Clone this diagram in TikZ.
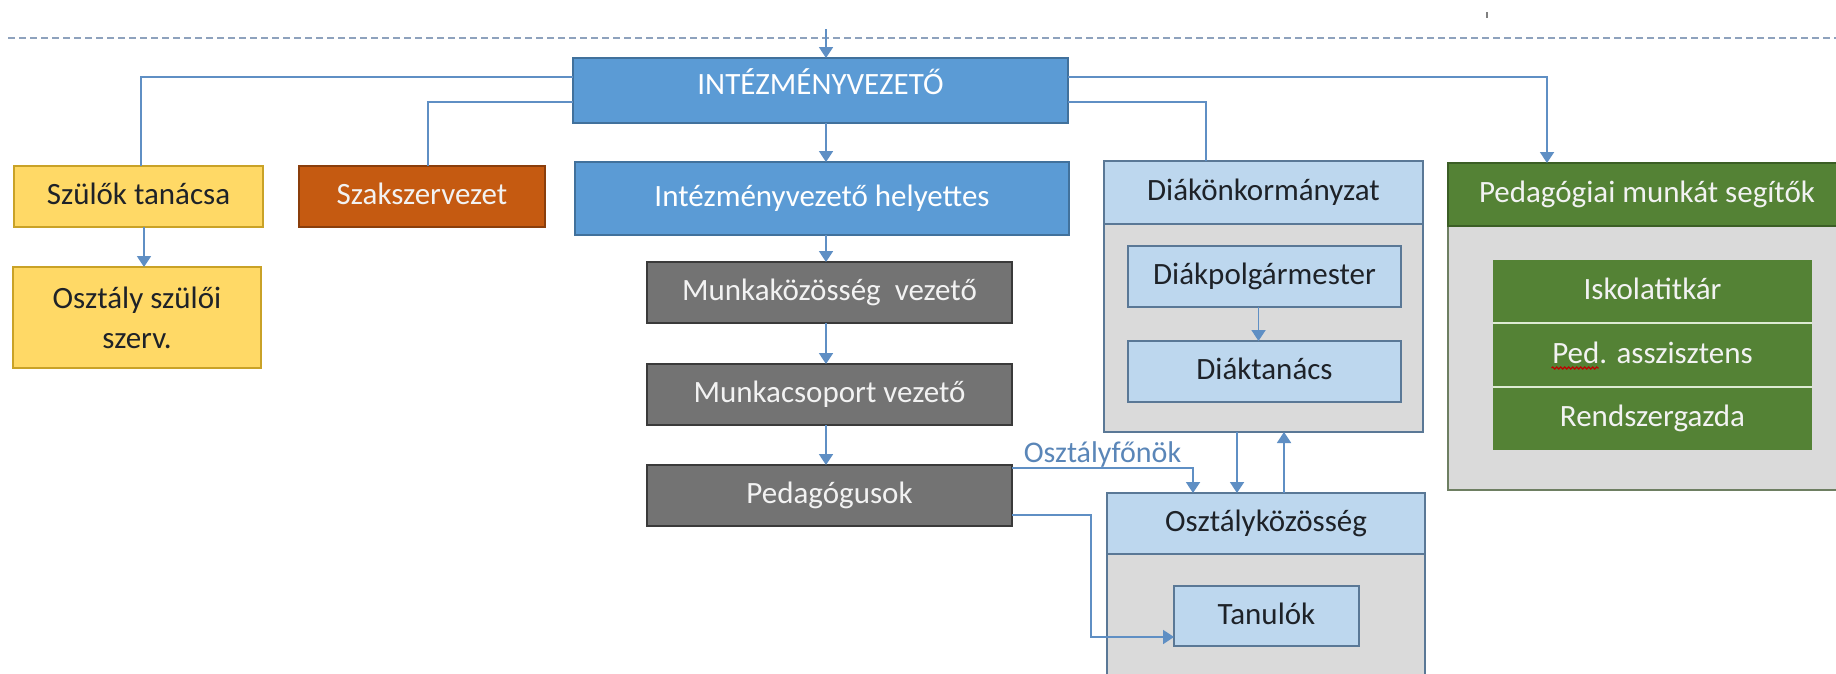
\documentclass[tikz,border=0pt]{standalone}
\usepackage{fontspec}
\setmainfont{Carlito}
\usetikzlibrary{arrows.meta,decorations.pathmorphing}

\definecolor{lineblue}{HTML}{5F8FC4}
\definecolor{labelblue}{HTML}{5A86B8}
\definecolor{boxblue}{HTML}{5B9BD5}
\definecolor{boxblueedge}{HTML}{41719C}
\definecolor{paleblue}{HTML}{BDD7EE}
\definecolor{paleedge}{HTML}{5A7896}
\definecolor{panelgray}{HTML}{DADADA}
\definecolor{boxgray}{HTML}{737373}
\definecolor{boxgrayedge}{HTML}{3A3A3A}
\definecolor{boxyellow}{HTML}{FFD966}
\definecolor{yellowedge}{HTML}{C9A227}
\definecolor{boxorange}{HTML}{C55A11}
\definecolor{orangeedge}{HTML}{8A3E0C}
\definecolor{boxgreen}{HTML}{548235}
\definecolor{greenedge}{HTML}{3B5E25}
\definecolor{greenpanel}{HTML}{6E7F62}
\definecolor{greenline}{HTML}{DDEBD3}
\definecolor{darktext}{HTML}{1E2228}
\definecolor{dashgray}{HTML}{8EA2BD}

\tikzset{
  sz/.style 2 args={minimum width=#1pt, minimum height=#2pt},
  base/.style={rectangle, anchor=north west, inner sep=0pt, outer sep=0pt,
    line width=1.5pt, font=\fontsize{31}{37}\selectfont, align=center},
  oneline/.style={text height=21pt, text depth=5pt},
  bluebox/.style={base, oneline, fill=boxblue, draw=boxblueedge, text=white},
  graybox/.style={base, oneline, fill=boxgray, draw=boxgrayedge, text=white!95!black},
  yellowbox/.style={base, fill=boxyellow, draw=yellowedge, text=darktext},
  orangebox/.style={base, oneline, fill=boxorange, draw=orangeedge, text=white!95!black},
  palebox/.style={base, oneline, fill=paleblue, draw=paleedge, text=darktext},
  panel/.style={base, fill=panelgray, draw=paleedge},
  greenhead/.style={base, oneline, fill=boxgreen, draw=greenedge, text=white!95!black},
  greenrow/.style={base, oneline, fill=boxgreen, text=white!95!black},
  conn/.style={draw=lineblue, line width=1.8pt},
  arr/.style={conn, -{Triangle[length=11pt,width=14pt]}},
  rowsep/.style={draw=greenline, line width=2pt},
  dashline/.style={draw=dashgray, line width=2pt, dash pattern=on 7pt off 4pt},
  squiggle/.style={draw=red!75!black, line width=1.2pt, decorate,
    decoration={snake, amplitude=1pt, segment length=4pt}},
}

\begin{document}
\begin{tikzpicture}[x=1pt, y=-1pt]
  \clip (0,0) rectangle (1836,673);
  \fill[white] (0,0) rectangle (1836,673);

  % top dashed boundary and small tick
  \draw[dashline] (8,38) -- (1836,38);
  \draw[draw=gray, line width=1.5pt] (1487,12) -- (1487,18);

  % central chain
  \node[bluebox, sz={495}{65}, text height=17pt, text depth=9pt] (int) at (573,58) {INTÉZMÉNYVEZETŐ};
  \node[bluebox, sz={494}{73}] (hely) at (575,162) {Intézményvezető helyettes};
  \node[graybox, sz={365}{61}] (mkv) at (647,262) {Munkaközösség~~vezető};
  \node[graybox, sz={365}{61}] (mcv) at (647,364) {Munkacsoport vezető};
  \node[graybox, sz={365}{61}] (ped) at (647,465) {Pedagógusok};

  % left side
  \node[yellowbox, oneline, sz={249}{61}] (szulok) at (14,166) {Szülők tanácsa};
  \node[yellowbox, sz={248}{101}, font=\fontsize{31}{40}\selectfont] (oszsz) at (13,267) {Osztály szülői\\szerv.};
  \node[orangebox, sz={246}{61}] (szak) at (299,166) {Szakszervezet};

  % student self-government
  \node[panel, sz={319}{271}] (diakbox) at (1104,161) {};
  \node[palebox, sz={319}{63}] (diakhead) at (1104,161) {Diákönkormányzat};
  \node[palebox, sz={273}{61}] (diakpol) at (1128,246) {Diákpolgármester};
  \node[palebox, sz={273}{61}] (diaktan) at (1128,341) {Diáktanács};

  % class community
  \node[panel, sz={318}{220}] (osztbox) at (1107,493) {};
  \node[palebox, sz={318}{61}] (oszthead) at (1107,493) {Osztályközösség};
  \node[palebox, sz={185}{60}] (tanulok) at (1174,586) {Tanulók};

  % support staff
  \node[panel, draw=greenpanel, sz={398}{327}] (pedbox) at (1448,163) {};
  \node[greenhead, sz={398}{63}] (pedhead) at (1448,163) {Pedagógiai munkát segítők};
  \node[greenrow, sz={319}{63}] (isk) at (1493,260) {Iskolatitkár};
  \node[greenrow, sz={319}{64}] (asz) at (1493,323) {Ped. asszisztens};
  \node[greenrow, sz={319}{63}] (rend) at (1493,387) {Rendszergazda};
  \draw[rowsep] (isk.south west) -- (isk.south east);
  \draw[rowsep] (asz.south west) -- (asz.south east);
  \draw[squiggle] ([xshift=-101pt,yshift=-13pt]asz.center) -- ++(47,0);

  % vertical chain arrows
  \coordinate (axis) at (826,29);
  \draw[arr] (axis) -- (axis |- int.north);
  \draw[arr] (axis |- int.south) -- (axis |- hely.north);
  \draw[arr] (axis |- hely.south) -- (axis |- mkv.north);
  \draw[arr] (axis |- mkv.south) -- (axis |- mcv.north);
  \draw[arr] (axis |- mcv.south) -- (axis |- ped.north);

  % branches from the head
  \draw[conn] ([yshift=13.5pt]int.west) -| ([xshift=2.5pt]szulok.north);
  \draw[conn] ([yshift=-11.5pt]int.west) -| ([xshift=6pt]szak.north);
  \draw[arr] ([yshift=13.5pt]int.east) -| ([xshift=99pt]pedhead.north west);
  \draw[conn] ([yshift=-11.5pt]int.east) -| ([xshift=102pt]diakbox.north west);

  % parents
  \draw[arr] ([xshift=5.5pt]szulok.south) -- ([xshift=5.5pt]szulok.south |- oszsz.north);

  % students
  \draw[arr] ([xshift=-6pt]diakpol.south) -- ([xshift=-6pt]diakpol.south |- diaktan.north);
  \draw[arr] ([xshift=133pt]diakbox.south west) -- ([xshift=133pt]diakbox.south west |- oszthead.north);
  \draw[arr] ([xshift=177pt]oszthead.north west) -- ([xshift=177pt]oszthead.north west |- diakbox.south);

  % teachers to class
  \draw[arr] ([yshift=27.5pt]ped.east) -| node[pos=0.25, anchor=base, yshift=6pt,
      text=labelblue, font=\fontsize{30}{36}\selectfont] (ofo) {Osztályfőnök}
    ([xshift=86pt]oszthead.north west);
  \draw[arr] ([yshift=-19.5pt]ped.east) -- ++(79,0) |- ([yshift=-21pt]tanulok.west);
\end{tikzpicture}
\end{document}
